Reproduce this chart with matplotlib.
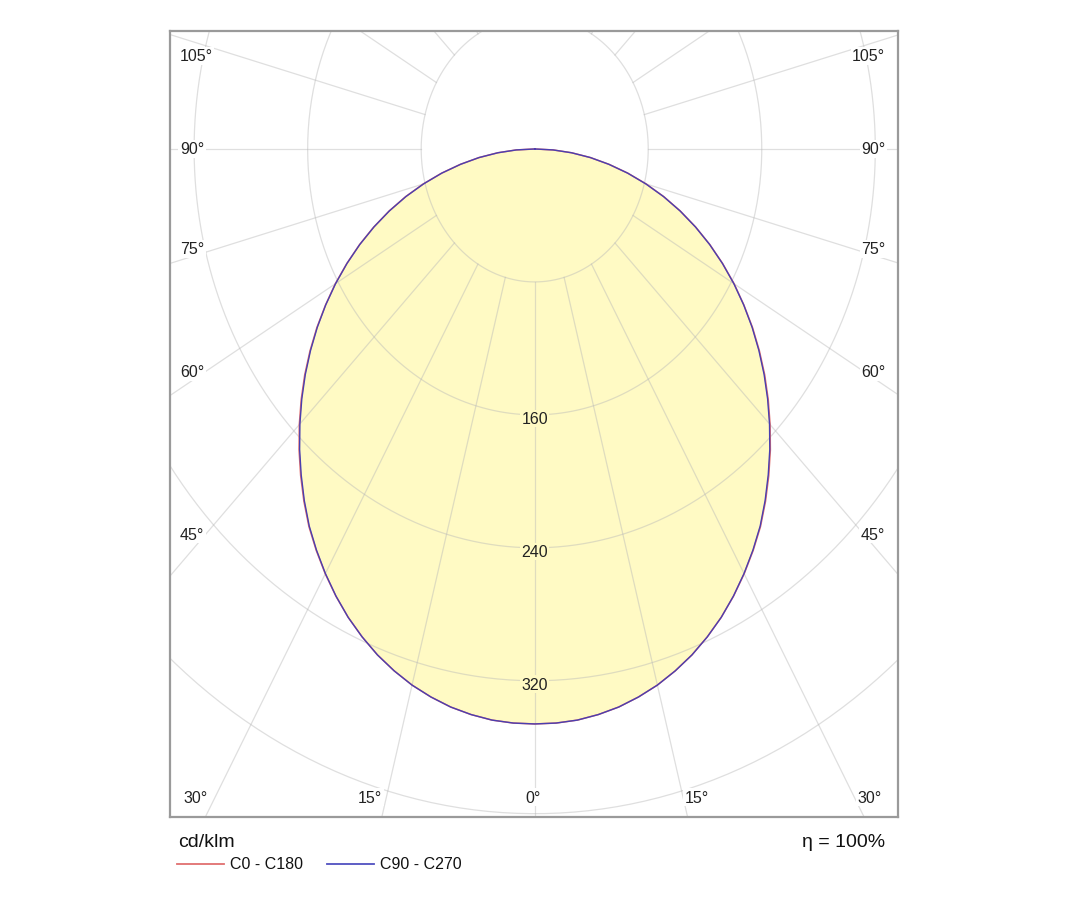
import numpy as np
import matplotlib.pyplot as plt
from matplotlib.lines import Line2D

plt.rcParams['font.family'] = ['Liberation Sans', 'DejaVu Sans']

# gamma angles (deg from nadir) and intensities in cd/klm
gamma = [0, 2.5, 5, 7.5, 10, 12.5, 15, 17.5, 20, 22.5, 25, 27.5, 30, 32.5, 35, 37.5,
         40, 42.5, 45, 47.5, 50, 52.5, 55, 57.5, 60, 62.5, 65, 67.5, 70, 72.5, 75,
         77.5, 80, 82.5, 85, 87.5, 90]
c0_c180 = [346, 345.8, 345, 343.3, 341, 337.8, 334, 329.3, 324, 317.8, 311, 303.4,
           295.2, 286.5, 277.4, 267.2, 256.6, 245.8, 234.6, 223.2, 211.6, 199.6, 187.4,
           174.8, 162.3, 149.3, 136.2, 122.8, 109.2, 95.4, 81.3, 67.2, 53.2, 39.6, 26.2,
           13, 0]
c90_c270 = [346, 345.8, 345, 343.3, 341, 337.8, 334, 329.3, 324, 317.8, 311, 303.3,
            295, 286.2, 277, 266.7, 256, 245.2, 234, 222.6, 211, 199.1, 187, 174.6,
            162, 149.1, 136, 122.6, 109, 95.1, 81, 67, 53, 39.6, 26, 13, 0]

rings = [80, 160, 240, 320, 400]
ring_labels = ['160', '240', '320']
spoke_step = 15

side_labels = ['105°', '90°', '75°', '60°', '45°']
side_label_y = [56, 0, -60, -134, -232]
bottom_labels = ['30°', '15°', '0°', '15°', '30°']
bottom_label_x = [-239, -116, -1, 114, 236]

fig = plt.figure(figsize=(10.8, 9.2), dpi=100)
ax = fig.add_axes([170/1080, 1-818/920, 728/1080, 786/920])
ax.set_xlim(-257, 256)
ax.set_ylim(-402, 71)
ax.set_xticks([])
ax.set_yticks([])
for s in ax.spines.values():
    s.set_color('#9a9a9a')
    s.set_linewidth(1.6)

def curve(vals):
    g = np.radians(np.array(gamma, dtype=float))
    v = np.array(vals, dtype=float)
    # left half (C180 / C270) from 90 down to 0, right half (C0 / C90) back up
    x = np.concatenate([-(v * np.sin(g))[::-1], (v * np.sin(g))[1:]])
    y = np.concatenate([-(v * np.cos(g))[::-1], -(v * np.cos(g))[1:]])
    return x, y

xr, yr = curve(c0_c180)
xb, yb = curve(c90_c270)
ax.fill(xr, yr, color='#fffac4', zorder=1, lw=0)
ax.fill(xb, yb, color='#fffac4', zorder=1, lw=0)

# grid: rings and spokes
gkw = dict(color='#b8b8b8', lw=0.9, alpha=0.45, zorder=2)
t = np.linspace(0, 2*np.pi, 500)
for r in rings:
    ax.plot(r*np.sin(t), r*np.cos(t), **gkw)
for a in range(0, 360, spoke_step):
    ar = np.radians(a)
    ax.plot([80*np.sin(ar), 700*np.sin(ar)], [-80*np.cos(ar), -700*np.cos(ar)], **gkw)

ax.plot(xr, yr, color='#e07070', lw=1.1, zorder=3)
ax.plot(xb, yb, color='#4a3fb0', lw=1.0, zorder=4)

tkw = dict(fontsize=11.5, color='#222222', zorder=5)
for lab, yy in zip(side_labels, side_label_y):
    ax.text(-250, yy, lab, ha='left', va='center',
            bbox=dict(facecolor='white', edgecolor='none', pad=1.0), **tkw)
    ax.text(247, yy, lab, ha='right', va='center',
            bbox=dict(facecolor='white', edgecolor='none', pad=1.0), **tkw)
for lab, xx in zip(bottom_labels, bottom_label_x):
    ax.text(xx, -390, lab, ha='center', va='center',
            bbox=dict(facecolor='white', edgecolor='none', pad=1.0), **tkw)
for lab in ring_labels:
    r = float(lab)
    ax.text(0, -r - 2, lab, ha='center', va='center',
            bbox=dict(facecolor='#fffac4', edgecolor='none', pad=0.8), **tkw)

fig.text(178/1080, 1-843/920, 'cd/klm', fontsize=14, color='#111111', ha='left', va='center')
fig.text(885/1080, 1-843/920, 'η = 100%', fontsize=14, color='#111111', ha='right', va='center')

ly = 1-865/920
fig.add_artist(Line2D([177/1080, 224/1080], [ly, ly], color='#e07070', lw=1.3))
fig.text(230/1080, ly, 'C0 - C180', fontsize=11.5, color='#111111', ha='left', va='center')
fig.add_artist(Line2D([327/1080, 374/1080], [ly, ly], color='#5050c0', lw=1.3))
fig.text(380/1080, ly, 'C90 - C270', fontsize=11.5, color='#111111', ha='left', va='center')

fig.savefig('out.png', dpi=100, facecolor='white')
